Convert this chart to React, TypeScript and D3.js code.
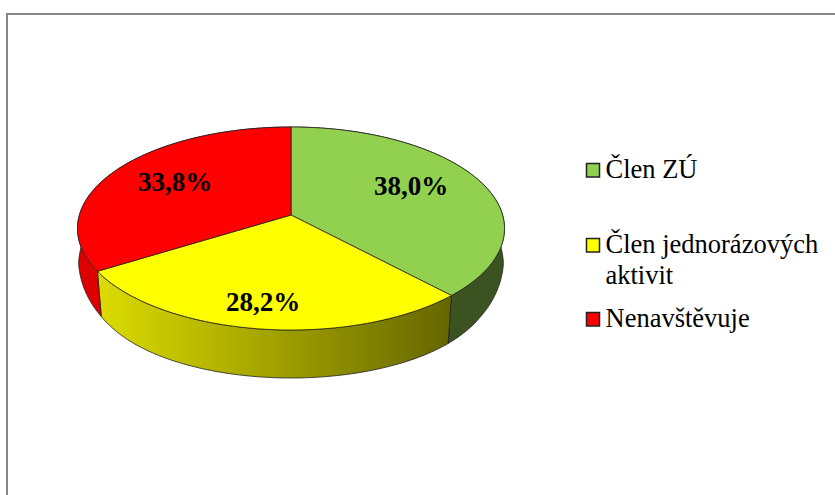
import React from 'react';
import * as d3 from 'd3';

const categories = ['Člen ZÚ', 'Člen jednorázových aktivit', 'Nenavštěvuje'];
const values = [38.0, 28.2, 33.8];
const valueLabels = ['38,0%', '28,2%', '33,8%'];
const legendLines = [['Člen ZÚ'], ['Člen jednorázových', 'aktivit'], ['Nenavštěvuje']];
const topColors = ['#92D050', '#FFFF00', '#FF0000'];
const sideStops = [['#3A5320', '#3A5320'], ['#DCDC00', '#666600'], ['#DE0000', '#CC0000']];

const labelPos = [[411, 195], [263, 311], [175, 191]];
const legendY = [178, 253, 327];

// apex of the pie and the tilt of the view
const cx = 291;
const cy = 215;
const persp = -0.133;
const scaleX = d3.scaleLinear().domain([-1, 1]).range([-211.6, 211.6]);
const scaleY = d3.scaleLinear().domain([-1, 1]).range([-99.7, 99.7]);

const project = (angle: number, bottom = false): [number, number] => {
  const ux = Math.sin(angle);
  const uy = -Math.cos(angle);
  const w = 1 + persp * uy;
  const x = scaleX(ux) / w;
  const y = scaleY(uy) / w;
  if (!bottom) return [cx + x, cy + y];
  // underside: lower, taller, slightly narrower towards the viewer
  const v = (cy + y - 228.5) / 101.5;
  const shrink = 0.995 - 0.015 * Math.min(1, Math.abs(v) / 0.42);
  return [cx + x * shrink, 263 + 115 * (v + 0.045 * Math.sin(Math.PI * v))];
};

const arcAngles = (a: number, b: number) => {
  const n = Math.max(2, Math.ceil((b - a) / 0.02));
  return d3.range(n + 1).map(i => a + ((b - a) * i) / n);
};

const line = d3.line();

const App = () => {
  const slices = d3.pie<number>().sort(null)(values);

  return (
    <svg
      width={835}
      height={495}
      style={{ position: 'absolute', left: 0, top: 0, background: '#fff' }}
    >
      <defs>
        {sideStops.map((s, i) => (
          <linearGradient key={i} id={`side${i}`} gradientUnits="userSpaceOnUse" x1={98} x2={450} y1={0} y2={0}>
            <stop offset="0" stopColor={s[0]} />
            <stop offset="1" stopColor={s[1]} />
          </linearGradient>
        ))}
      </defs>

      <path d="M7,495V14H835" fill="none" stroke="#868686" strokeWidth={2} />

      {slices.map((s, i) => {
        const angles = arcAngles(s.startAngle, s.endAngle);
        const pts = [...angles.map(a => project(a)), ...angles.slice().reverse().map(a => project(a, true))];
        return (
          <path
            key={i}
            d={line(pts) + 'Z'}
            fill={`url(#side${i})`}
            stroke="#222"
            strokeWidth={0.8}
            strokeLinejoin="round"
          />
        );
      })}

      {slices.map((s, i) => {
        const pts = arcAngles(s.startAngle, s.endAngle).map(a => project(a));
        return (
          <path
            key={i}
            d={line([[cx, cy], ...pts]) + 'Z'}
            fill={topColors[i]}
            stroke="#222"
            strokeWidth={0.8}
            strokeLinejoin="round"
          />
        );
      })}

      {valueLabels.map((t, i) => (
        <text
          key={i}
          x={labelPos[i][0]}
          y={labelPos[i][1]}
          textAnchor="middle"
          fontFamily="'Liberation Serif', serif"
          fontWeight="bold"
          fontSize={27}
          fill="#000"
        >
          {t}
        </text>
      ))}

      {categories.map((c, i) => (
        <g key={c}>
          <rect
            x={586.5}
            y={legendY[i] - 14.5}
            width={13}
            height={13.5}
            fill={topColors[i]}
            stroke="#222"
            strokeWidth={1.5}
          />
          {legendLines[i].map((t, j) => (
            <text
              key={j}
              x={605.5}
              y={legendY[i] + j * 31}
              fontFamily="'Liberation Serif', serif"
              fontSize={26.5}
              fill="#000"
            >
              {t}
            </text>
          ))}
        </g>
      ))}
    </svg>
  );
};

export default App;
